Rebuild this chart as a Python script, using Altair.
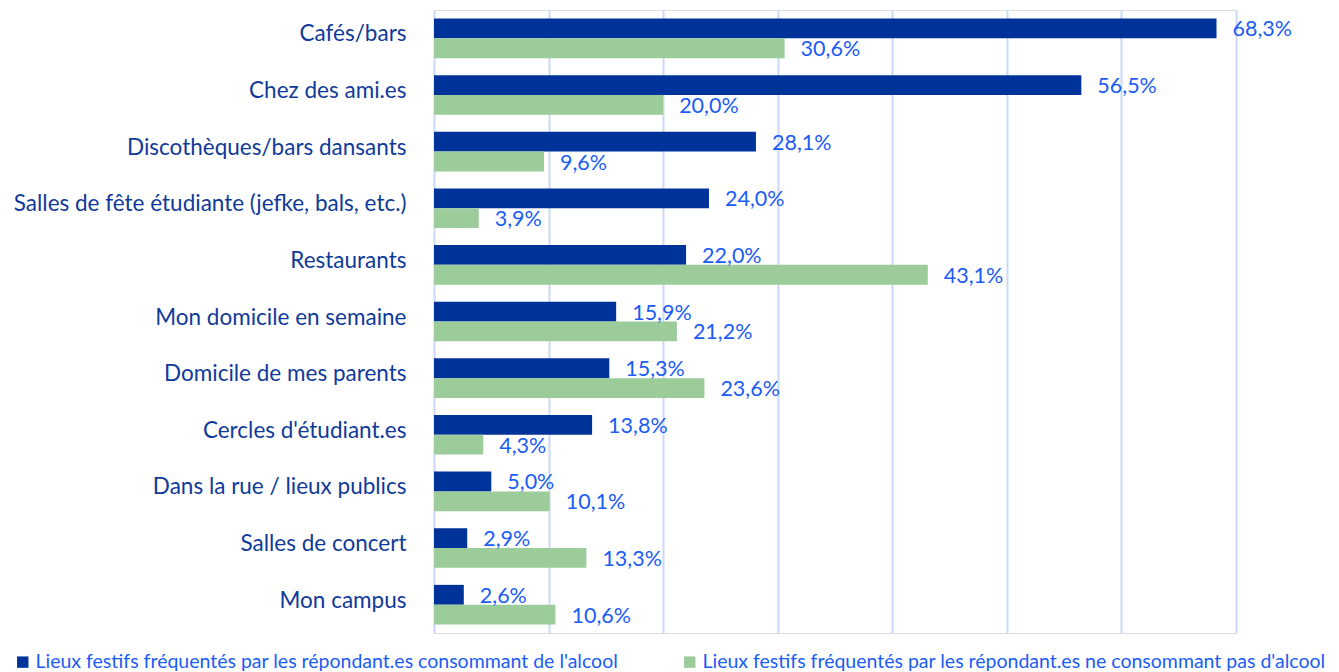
import altair as alt
import pandas as pd

categories = [
    "Cafés/bars",
    "Chez des ami.es",
    "Discothèques/bars dansants",
    "Salles de fête étudiante (jefke, bals, etc.)",
    "Restaurants",
    "Mon domicile en semaine",
    "Domicile de mes parents",
    "Cercles d'étudiant.es",
    "Dans la rue / lieux publics",
    "Salles de concert",
    "Mon campus",
]
series = [
    "Lieux festifs fréquentés par les répondant.es consommant de l'alcool",
    "Lieux festifs fréquentés par les répondant.es ne consommant pas d'alcool",
]
alcool = [68.3, 56.5, 28.1, 24.0, 22.0, 15.9, 15.3, 13.8, 5.0, 2.9, 2.6]
sans_alcool = [30.6, 20.0, 9.6, 3.9, 43.1, 21.2, 23.6, 4.3, 10.1, 13.3, 10.6]
colors = ["#003399", "#9ccc99"]

rows = []
for c, a, s in zip(categories, alcool, sans_alcool):
    rows.append({"cat": c, "serie": series[0], "v": a, "o": 0})
    rows.append({"cat": c, "serie": series[1], "v": s, "o": 1})
df = pd.DataFrame(rows)

FONT = "Lato"

base = alt.Chart(df).transform_calculate(
    lab="replace(format(datum.v, '.1f'), '.', ',') + '%'"
)

y = alt.Y("cat:N", sort=categories, title=None,
          scale=alt.Scale(paddingInner=0.3, paddingOuter=0.15),
          axis=alt.Axis(labelFont=FONT, labelFontSize=22.5, labelColor="#0f3a9a",
                        ticks=False, domain=False, labelPadding=28, labelLimit=0,
                        labelOffset=-4))
x = alt.X("v:Q", title=None, scale=alt.Scale(domain=[0, 70], nice=False),
          axis=alt.Axis(values=list(range(0, 80, 10)), labels=False, ticks=False,
                        domain=False, grid=True, gridColor="#c9d9f7", gridWidth=2))

bars = base.mark_bar().encode(
    y=y,
    x=x,
    yOffset=alt.YOffset("o:O"),
    color=alt.Color("serie:N", sort=series,
                    scale=alt.Scale(domain=series, range=colors),
                    legend=alt.Legend(title=None, orient="none", direction="horizontal",
                                      legendX=-421, legendY=642, columns=2,
                                      columnPadding=61, symbolType="square",
                                      symbolSize=130, symbolStrokeWidth=0,
                                      labelFont=FONT, labelFontSize=19.5,
                                      labelColor="#1a5cf5", labelLimit=0,
                                      symbolOffset=0, labelOffset=3)),
)

labels = base.mark_text(align="left", baseline="middle", dx=16, dy=2, font=FONT,
                        fontSize=21.5, color="#1a5cf5", clip=False).encode(
    y=alt.Y("cat:N", sort=categories),
    x=alt.X("v:Q"),
    yOffset=alt.YOffset("o:O"),
    text="lab:N",
)

chart = alt.layer(bars, labels).properties(
    width=802, height=623,
    autosize=alt.AutoSizeParams(type="none"),
    padding={"left": 426, "top": 2, "right": 95, "bottom": 40},
).configure_view(stroke=None).configure(background="white")

chart.save("out.html", embed_options={"renderer": "svg", "actions": False})
